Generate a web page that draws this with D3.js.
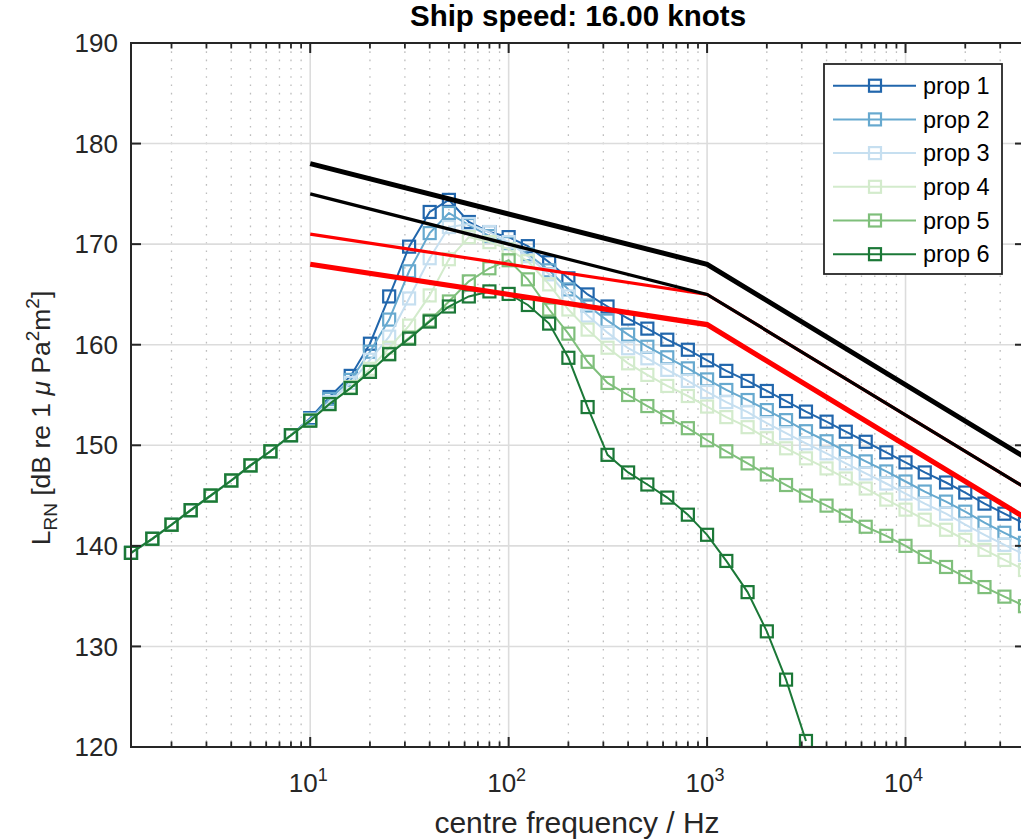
<!DOCTYPE html>
<html>
<head>
<meta charset="utf-8">
<script src="https://cdn.jsdelivr.net/npm/d3@7"></script>
<style>
  html, body { margin: 0; padding: 0; background: #fff; }
  svg { display: block; font-family: "Liberation Sans", Arial, Helvetica, sans-serif; }
</style>
</head>
<body>
<svg id="chart" width="1021" height="839"></svg>
<script>
// ---------------- data ----------------
const titleText = "Ship speed: 16.00 knots";
const freqs = [1.25,1.6,2,2.5,3.15,4,5,6.3,8,10,12.5,16,20,25,31.5,40,50,63,80,100,125,160,200,250,315,400,500,630,800,1000,1250,1600,2000,2500,3150,4000,5000,6300,8000,10000,12500,16000,20000,25000,31500,40000];
const seriesNames = ["prop 1","prop 2","prop 3","prop 4","prop 5","prop 6"];
const seriesColors = ["#2166ac","#67a9cf","#c6dff0","#d3ebcc","#7fbf7b","#1b7837"];
const prop1 = [139.3,140.7,142.1,143.55,145.0,146.5,148.0,149.4,151.0,152.7,154.8,156.9,160.1,164.8,169.75,173.2,174.4,172.2,171.2,170.7,169.8,168.2,166.6,165.0,163.8,162.6,161.6,160.5,159.5,158.45,157.4,156.4,155.4,154.4,153.35,152.35,151.35,150.35,149.3,148.3,147.3,146.3,145.3,144.2,143.2,142.2];
const prop2 = [139.3,140.7,142.1,143.55,145.0,146.5,148.0,149.4,151.0,152.6,154.6,156.5,159.3,162.5,167.3,171.1,173.1,171.9,170.8,170.1,169.0,167.4,165.5,163.9,162.4,161.0,159.8,158.75,157.65,156.55,155.5,154.5,153.5,152.5,151.4,150.4,149.4,148.4,147.4,146.4,145.4,144.4,143.4,142.3,141.3,140.3];
const prop3 = [139.3,140.7,142.1,143.55,145.0,146.5,148.0,149.4,151.0,152.5,154.3,156.2,158.5,160.8,164.6,168.6,171.7,172.0,171.2,170.2,168.8,167.0,164.8,162.9,161.2,159.65,158.65,157.5,156.4,155.3,154.3,153.3,152.2,151.2,150.2,149.2,148.2,147.2,146.2,145.2,144.2,143.2,142.1,141.1,140.1,139.1];
const prop4 = [139.3,140.7,142.1,143.55,145.0,146.5,148.0,149.4,151.0,152.5,154.1,155.8,157.6,159.7,161.9,164.9,168.5,170.7,170.2,169.5,168.3,166.0,163.5,161.5,159.7,158.15,157.0,155.9,154.9,153.85,152.8,151.8,150.7,149.7,148.7,147.7,146.7,145.7,144.6,143.6,142.6,141.6,140.6,139.6,138.6,137.6];
const prop5 = [139.3,140.7,142.1,143.55,145.0,146.5,148.0,149.4,151.0,152.45,154.1,155.7,157.3,159.1,160.7,162.4,164.3,166.3,167.6,168.4,166.5,163.5,161.1,158.3,156.2,155.0,153.9,152.8,151.7,150.5,149.4,148.2,147.1,146.05,145.0,144.0,143.0,141.9,141.0,140.0,138.9,137.9,136.9,135.9,134.95,134.0];
const prop6 = [139.3,140.7,142.1,143.55,145.0,146.5,148.0,149.4,151.0,152.45,154.1,155.7,157.3,159.05,160.6,162.3,163.8,164.8,165.3,165.05,163.95,162.1,158.7,153.8,149.05,147.3,146.1,144.8,143.1,141.1,138.5,135.4,131.5,126.7,120.6];
const propValues = [prop1, prop2, prop3, prop4, prop5, prop6];

// reference (limit) lines
const refFreqs = [10, 1000, 40000];
const blackThick = [178, 168, 148.8];
const blackThin = [175, 165, 145.8];
const redThin = [171, 165, 145.8];
const redThick = [168, 162, 142.8];

const yTicks = [120,130,140,150,160,170,180,190];
const xMajor = [10, 100, 1000, 10000];
const xMajorExp = ["1","2","3","4"];
const xLabel = "centre frequency / Hz";

// ---------------- layout ----------------
const L = 131, R = 1025, T = 43, B = 747;
const axisColor = "#262626";
const svg = d3.select("#chart");

const x = d3.scaleLog().domain([1.25, 40000]).range([L, R]);
const y = d3.scaleLinear().domain([120, 190]).range([B, T]);

// minor ticks
const minorTicks = [];
[1, 10, 100, 1000, 10000].forEach(dec => {
  for (let k = 2; k <= 9; k++) {
    const v = dec * k;
    if (v >= 1.25 && v <= 40000) minorTicks.push(v);
  }
});

const clipId = "plotclip";
svg.append("defs").append("clipPath").attr("id", clipId)
  .append("rect").attr("x", L).attr("y", T).attr("width", R - L).attr("height", B - T);

// grid
const grid = svg.append("g");
grid.selectAll(".mg").data(minorTicks).join("line")
  .attr("x1", d => x(d)).attr("x2", d => x(d)).attr("y1", T).attr("y2", B)
  .attr("stroke", "#bdbdbd").attr("stroke-width", 1.3).attr("stroke-dasharray", "1.6,6.7");
grid.selectAll(".gx").data(xMajor).join("line")
  .attr("x1", d => x(d)).attr("x2", d => x(d)).attr("y1", T).attr("y2", B)
  .attr("stroke", "#dcdcdc").attr("stroke-width", 1.6);
grid.selectAll(".gy").data(yTicks).join("line")
  .attr("x1", L).attr("x2", R).attr("y1", d => y(d)).attr("y2", d => y(d))
  .attr("stroke", "#dcdcdc").attr("stroke-width", 1.6);

// series
const line = d3.line().x(d => x(d[0])).y(d => y(d[1]));
const plotG = svg.append("g");
const ms = 12;
propValues.forEach((vals, i) => {
  const pts = vals.map((v, j) => [freqs[j], v]);
  plotG.append("path").datum(pts)
    .attr("clip-path", `url(#${clipId})`)
    .attr("d", line).attr("fill", "none")
    .attr("stroke", seriesColors[i]).attr("stroke-width", 2);
  plotG.selectAll(null).data(pts).join("rect")
    .attr("x", d => x(d[0]) - ms / 2).attr("y", d => y(d[1]) - ms / 2)
    .attr("width", ms).attr("height", ms)
    .attr("fill", "none").attr("stroke", seriesColors[i]).attr("stroke-width", 2.2);
});

// reference lines
const refs = [
  {vals: redThin, color: "#ff0000", w: 3.2},
  {vals: redThick, color: "#ff0000", w: 5.2},
  {vals: blackThin, color: "#000000", w: 3.2},
  {vals: blackThick, color: "#000000", w: 5}
];
refs.forEach(r => {
  plotG.append("path").datum(r.vals.map((v, j) => [refFreqs[j], v]))
    .attr("clip-path", `url(#${clipId})`)
    .attr("d", line).attr("fill", "none")
    .attr("stroke", r.color).attr("stroke-width", r.w).attr("stroke-linejoin", "miter");
});

// axes box & ticks
const ax = svg.append("g").attr("stroke", axisColor);
ax.append("line").attr("x1", L).attr("x2", L).attr("y1", T - 1).attr("y2", B + 1).attr("stroke-width", 2);
ax.append("line").attr("x1", L).attr("x2", R).attr("y1", B).attr("y2", B).attr("stroke-width", 2);
ax.append("line").attr("x1", L).attr("x2", R).attr("y1", T).attr("y2", T).attr("stroke-width", 2);
ax.append("line").attr("x1", R).attr("x2", R).attr("y1", T).attr("y2", B).attr("stroke-width", 2);
// y ticks (left and right)
ax.selectAll(".yt").data(yTicks).join("line")
  .attr("x1", L).attr("x2", L + 10).attr("y1", d => y(d)).attr("y2", d => y(d)).attr("stroke-width", 2);
ax.selectAll(".yt2").data(yTicks).join("line")
  .attr("x1", R).attr("x2", R - 10).attr("y1", d => y(d)).attr("y2", d => y(d)).attr("stroke-width", 2);
// x ticks bottom/top
[[B, -1], [T, 1]].forEach(([yy, dir]) => {
  ax.selectAll(null).data(xMajor).join("line")
    .attr("x1", d => x(d)).attr("x2", d => x(d)).attr("y1", yy).attr("y2", yy + dir * 10).attr("stroke-width", 2);
  ax.selectAll(null).data(minorTicks).join("line")
    .attr("x1", d => x(d)).attr("x2", d => x(d)).attr("y1", yy).attr("y2", yy + dir * 5.5).attr("stroke-width", 1.8);
});

// tick labels
const tickFont = 26;
svg.append("g").selectAll("text").data(yTicks).join("text")
  .attr("x", L - 13).attr("y", d => y(d)).attr("dy", "0.35em")
  .attr("text-anchor", "end").attr("font-size", tickFont).attr("fill", axisColor)
  .text(d => d);
const xt = svg.append("g").selectAll("text").data(xMajor).join("text")
  .attr("x", (d) => x(d) - 2).attr("y", 792)
  .attr("text-anchor", "middle").attr("font-size", tickFont).attr("fill", axisColor);
xt.append("tspan").text("10");
xt.append("tspan").attr("dy", -11).attr("font-size", 18).text((d, i) => xMajorExp[i]);

// axis labels
svg.append("text").attr("x", 577).attr("y", 833).attr("text-anchor", "middle")
  .attr("font-size", 30).attr("fill", axisColor).text(xLabel);

const yl = svg.append("text").attr("transform", "translate(50,418) rotate(-90)")
  .attr("text-anchor", "middle").attr("font-size", 26.5).attr("fill", axisColor);
yl.append("tspan").text("L");
yl.append("tspan").attr("dy", 7).attr("font-size", 19).text("RN");
yl.append("tspan").attr("dy", -7).text(" [dB re 1");
yl.append("tspan").attr("font-style", "italic").text(" μ");
yl.append("tspan").text(" Pa");
yl.append("tspan").attr("dy", -11).attr("font-size", 19).text("2");
yl.append("tspan").attr("dy", 11).text("m");
yl.append("tspan").attr("dy", -11).attr("font-size", 19).text("2");
yl.append("tspan").attr("dy", 11).text("]");

// title
svg.append("text").attr("x", 578).attr("y", 26).attr("text-anchor", "middle")
  .attr("font-size", 29.5).attr("font-weight", "bold").attr("fill", "#000").text(titleText);

// legend
const lg = svg.append("g");
const lgX = 824, lgY = 64, lgW = 178, lgH = 210;
lg.append("rect").attr("x", lgX).attr("y", lgY).attr("width", lgW).attr("height", lgH)
  .attr("fill", "#fff").attr("stroke", axisColor).attr("stroke-width", 1.8);
seriesNames.forEach((name, i) => {
  const yy = 85.7 + i * 33.7;
  lg.append("line").attr("x1", 833).attr("x2", 916).attr("y1", yy).attr("y2", yy)
    .attr("stroke", seriesColors[i]).attr("stroke-width", 2);
  lg.append("rect").attr("x", 875 - ms / 2).attr("y", yy - ms / 2).attr("width", ms).attr("height", ms)
    .attr("fill", "none").attr("stroke", seriesColors[i]).attr("stroke-width", 2.2);
  lg.append("text").attr("x", 923).attr("y", yy).attr("dy", "0.35em")
    .attr("font-size", 23.5).attr("fill", "#000").text(name);
});
</script>
</body>
</html>
